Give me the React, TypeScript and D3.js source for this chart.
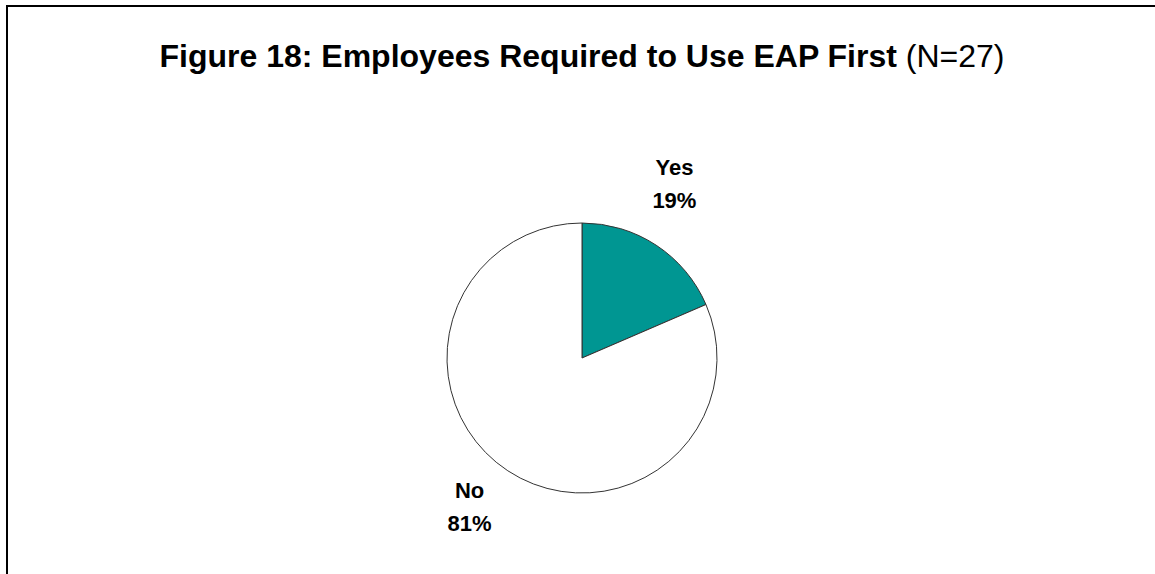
import React from "react";
import * as d3 from "d3";

const categories = ["Yes", "No"];
const counts = [5, 22];
const colors = ["#009692", "#FFFFFF"];
const titleBold = "Figure 18: Employees Required to Use EAP First";
const titleRest = " (N=27)";

const W = 1155;
const H = 574;
const cx = 582;
const cy = 358;
const R = 135;

export default function App() {
  const total = d3.sum(counts);
  const pie = d3
    .pie<number>()
    .sort(null)
    .value((d) => d)
    .startAngle(0)
    .endAngle(2 * Math.PI);
  const arcs = pie(counts);
  const arc = d3.arc<d3.PieArcDatum<number>>().innerRadius(0).outerRadius(R);
  const labelArc = d3
    .arc<d3.PieArcDatum<number>>()
    .innerRadius(190)
    .outerRadius(190);
  // small nudges to mimic the original label placement
  const nudges: [number, number][] = [
    [-12, -16],
    [-8, -11],
  ];
  const font = "Arial, 'Liberation Sans', Helvetica, sans-serif";

  return (
    <svg
      width={W}
      height={H}
      style={{ position: "absolute", left: 0, top: 0, background: "#fff" }}
    >
      <rect x={0} y={0} width={W} height={H} fill="#fff" />
      <rect
        x={7}
        y={6}
        width={W + 20}
        height={H + 20}
        fill="none"
        stroke="#000"
        strokeWidth={2}
      />
      <text
        x={cx}
        y={67}
        textAnchor="middle"
        fontFamily={font}
        fontSize={32}
        fill="#000"
      >
        <tspan fontWeight="bold">{titleBold}</tspan>
        <tspan>{titleRest}</tspan>
      </text>
      <g transform={`translate(${cx},${cy})`}>
        {arcs.map((a, i) => (
          <path
            key={categories[i]}
            d={arc(a) || ""}
            fill={colors[i]}
            stroke="#333"
            strokeWidth={1}
          />
        ))}
        {arcs.map((a, i) => {
          const [x, y] = labelArc.centroid(a);
          const px = x + nudges[i][0];
          const py = y + nudges[i][1];
          const pct = Math.round((counts[i] / total) * 100);
          return (
            <text
              key={"l" + categories[i]}
              x={px}
              y={py}
              textAnchor="middle"
              fontFamily={font}
              fontWeight="bold"
              fontSize={22}
              fill="#000"
            >
              <tspan x={px} dy={-8}>
                {categories[i]}
              </tspan>
              <tspan x={px} dy={33}>
                {pct + "%"}
              </tspan>
            </text>
          );
        })}
      </g>
    </svg>
  );
}
